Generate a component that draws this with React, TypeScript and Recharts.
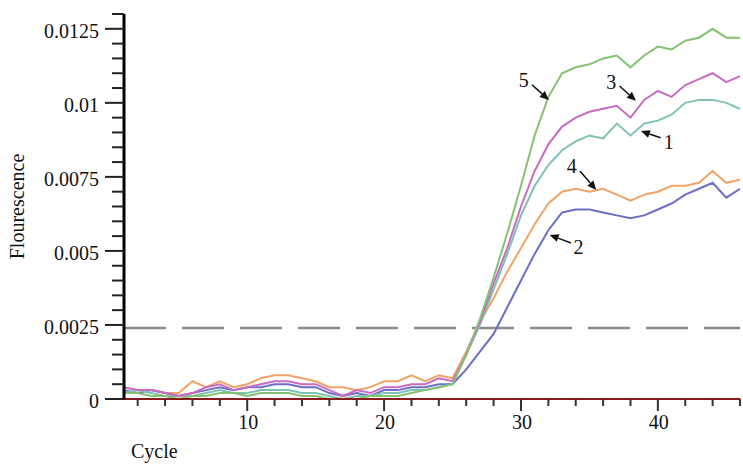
import { LineChart, Line, XAxis, YAxis, ReferenceLine, ReferenceDot } from "recharts";

const cycles = [
  1, 2, 3, 4, 5, 6, 7, 8, 9, 10, 11, 12, 13, 14, 15, 16, 17, 18, 19, 20, 21, 22, 23,
  24, 25, 26, 27, 28, 29, 30, 31, 32, 33, 34, 35, 36, 37, 38, 39, 40, 41, 42, 43, 44, 45, 46,
];

const sample1 = [
  0.0002, 0.0003, 0.0002, 0.0001, 0.0001, 0.0001, 0.0002, 0.0003, 0.0002, 0.0002, 0.0003, 0.0003,
  0.0003, 0.0002, 0.0002, 0.0001, 0.0, 0.0001, 0.0001, 0.0002, 0.0002, 0.0003, 0.0003, 0.0004,
  0.0005, 0.0015, 0.0025, 0.0037, 0.0049, 0.0062, 0.0072, 0.0079, 0.0084, 0.0087, 0.0089, 0.0088,
  0.0093, 0.0089, 0.0093, 0.0094, 0.0096, 0.01, 0.0101, 0.0101, 0.01, 0.0098,
];
const sample2 = [
  0.0003, 0.0002, 0.0003, 0.0002, 0.0001, 0.0002, 0.0003, 0.0004, 0.0003, 0.0004, 0.0004, 0.0005,
  0.0005, 0.0004, 0.0004, 0.0002, 0.0001, 0.0002, 0.0001, 0.0003, 0.0003, 0.0004, 0.0004, 0.0005,
  0.0005, 0.001, 0.0016, 0.0022, 0.0031, 0.004, 0.0049, 0.0057, 0.0063, 0.0064, 0.0064, 0.0063,
  0.0062, 0.0061, 0.0062, 0.0064, 0.0066, 0.0069, 0.0071, 0.0073, 0.0068, 0.0071,
];
const sample3 = [
  0.0004, 0.0003, 0.0003, 0.0002, 0.0001, 0.0002, 0.0004, 0.0005, 0.0003, 0.0004, 0.0005, 0.0006,
  0.0006, 0.0005, 0.0005, 0.0003, 0.0001, 0.0003, 0.0002, 0.0004, 0.0004, 0.0005, 0.0005, 0.0007,
  0.0006, 0.0015, 0.0026, 0.0039, 0.0051, 0.0065, 0.0077, 0.0086, 0.0092, 0.0095, 0.0097, 0.0098,
  0.0099, 0.0095, 0.0101, 0.0104, 0.0102, 0.0106, 0.0108, 0.011, 0.0107, 0.0109,
];
const sample4 = [
  0.0004, 0.0003, 0.0003, 0.0002, 0.0002, 0.0006, 0.0004, 0.0006, 0.0004, 0.0005, 0.0007, 0.0008,
  0.0008, 0.0007, 0.0006, 0.0004, 0.0004, 0.0003, 0.0004, 0.0006, 0.0006, 0.0008, 0.0006, 0.0008,
  0.0007, 0.0016, 0.0026, 0.0034, 0.0043, 0.0051, 0.0059, 0.0066, 0.007, 0.0071, 0.007, 0.0071,
  0.0069, 0.0067, 0.0069, 0.007, 0.0072, 0.0072, 0.0073, 0.0077, 0.0073, 0.0074,
];
const sample5 = [
  0.0002, 0.0002, 0.0001, 0.0001, 0.0, 0.0001, 0.0001, 0.0002, 0.0002, 0.0001, 0.0002, 0.0002,
  0.0002, 0.0001, 0.0001, 0.0, 0.0, 0.0, 0.0001, 0.0001, 0.0001, 0.0002, 0.0003, 0.0004,
  0.0005, 0.0015, 0.0027, 0.0041, 0.0056, 0.0072, 0.0089, 0.0102, 0.011, 0.0112, 0.0113, 0.0115,
  0.0116, 0.0112, 0.0116, 0.0119, 0.0118, 0.0121, 0.0122, 0.0125, 0.0122, 0.0122,
];

const threshold = 0.0024;

const xTicks = [2, 4, 6, 8, 10, 12, 14, 16, 18, 20, 22, 24, 26, 28, 30, 32, 34, 36, 38, 40, 42, 44, 46];
const xLabelled = [10, 20, 30, 40];
const yTicks = [
  0, 0.0005, 0.001, 0.0015, 0.002, 0.0025, 0.003, 0.0035, 0.004, 0.0045, 0.005, 0.0055, 0.006,
  0.0065, 0.007, 0.0075, 0.008, 0.0085, 0.009, 0.0095, 0.01, 0.0105, 0.011, 0.0115, 0.012, 0.0125,
  0.013,
];
const yLabelled = [0, 0.0025, 0.005, 0.0075, 0.01, 0.0125];

// callouts: label position, arrow tail -> head, all in data units
const callouts = [
  { name: "5", lx: 30.2, ly: 0.01078, x1: 30.8, y1: 0.01061, x2: 32.04, y2: 0.0101 },
  { name: "3", lx: 36.6, ly: 0.01071, x1: 37.2, y1: 0.01057, x2: 38.4, y2: 0.01007 },
  { name: "1", lx: 40.8, ly: 0.00868, x1: 40.2, y1: 0.00882, x2: 38.76, y2: 0.00905 },
  { name: "4", lx: 33.7, ly: 0.00787, x1: 34.3, y1: 0.0077, x2: 35.5, y2: 0.00706 },
  { name: "2", lx: 34.2, ly: 0.00514, x1: 33.65, y1: 0.00527, x2: 32.1, y2: 0.00554 },
];

const data = cycles.map((c, i) => ({
  cycle: c,
  s1: sample1[i],
  s2: sample2[i],
  s3: sample3[i],
  s4: sample4[i],
  s5: sample5[i],
}));

const FONT = '"Liberation Serif", "Times New Roman", serif';

const XTick = (props: any) => {
  const { x, y, payload } = props;
  const major = xLabelled.includes(payload.value);
  return (
    <g>
      <line x1={x} y1={y} x2={x} y2={y + (major ? 12 : 7)} stroke="#333" strokeWidth={2} />
      {major && (
        <text x={x + 1} y={y + 30} textAnchor="middle" fontFamily={FONT} fontSize={20} fill="#111">
          {payload.value}
        </text>
      )}
    </g>
  );
};

const YTick = (props: any) => {
  const { x, y, payload } = props;
  const major = yLabelled.some((v) => Math.abs(v - payload.value) < 1e-9);
  return (
    <g>
      <line x1={x - (major ? 19 : 12)} y1={y} x2={x} y2={y} stroke="#222" strokeWidth={2} />
      {major && (
        <text x={x - 25} y={y + 9} textAnchor="end" fontFamily={FONT} fontSize={20} fill="#111">
          {String(payload.value)}
        </text>
      )}
    </g>
  );
};

const Arrow = (props: any) => {
  const { x1, y1, x2, y2 } = props;
  const a = Math.atan2(y2 - y1, x2 - x1);
  const len = 9;
  const w = 4;
  const bx = x2 - len * Math.cos(a);
  const by = y2 - len * Math.sin(a);
  const px = -Math.sin(a) * w;
  const py = Math.cos(a) * w;
  return (
    <g>
      <line x1={x1} y1={y1} x2={bx} y2={by} stroke="#111" strokeWidth={1.5} />
      <polygon points={`${x2},${y2} ${bx + px},${by + py} ${bx - px},${by - py}`} fill="#111" />
    </g>
  );
};

const App = () => {
  return (
    <div style={{ position: "absolute", left: 0, top: 0, background: "#fff" }}>
      <LineChart width={743} height={467} data={data} margin={{ top: 14, right: 3, left: 0, bottom: 0 }}>
        <XAxis
          dataKey="cycle"
          type="number"
          domain={[1, 46]}
          ticks={xTicks}
          interval={0}
          height={68}
          tickLine={false}
          tickSize={0}
          tickMargin={0}
          tick={<XTick />}
          axisLine={{ stroke: "#8b1a1a", strokeWidth: 2 }}
          allowDataOverflow
          label={{
            content: (p: any) => (
              <text x={p.viewBox.x + 7} y={p.viewBox.y + 59} fontFamily={FONT} fontSize={20} fill="#111">
                Cycle
              </text>
            ),
          }}
        />
        <YAxis
          type="number"
          domain={[0, 0.013]}
          ticks={yTicks}
          interval={0}
          width={124}
          tickLine={false}
          tickSize={0}
          tickMargin={0}
          tick={<YTick />}
          axisLine={{ stroke: "#000", strokeWidth: 3 }}
          allowDataOverflow
          label={{
            content: (p: any) => {
              const cx = 17;
              const cy = p.viewBox.y + p.viewBox.height / 2;
              return (
                <text
                  x={cx}
                  y={cy}
                  transform={`rotate(-90 ${cx} ${cy})`}
                  textAnchor="middle"
                  dominantBaseline="central"
                  fontFamily={FONT}
                  fontSize={20}
                  fill="#111"
                >
                  Flourescence
                </text>
              );
            },
          }}
        />
        <ReferenceLine y={threshold} stroke="#8a8a8a" strokeWidth={2.5} strokeDasharray="42 16" />
        <Line dataKey="s4" stroke="#f2a368" strokeWidth={2} dot={false} isAnimationActive={false} />
        <Line dataKey="s2" stroke="#6c6ec8" strokeWidth={2} dot={false} isAnimationActive={false} />
        <Line dataKey="s1" stroke="#7fc2b3" strokeWidth={2} dot={false} isAnimationActive={false} />
        <Line dataKey="s3" stroke="#c96bc0" strokeWidth={2} dot={false} isAnimationActive={false} />
        <Line dataKey="s5" stroke="#86c274" strokeWidth={2} dot={false} isAnimationActive={false} />
        {callouts.map((c) => (
          <ReferenceLine
            key={"a" + c.name}
            segment={[
              { x: c.x1, y: c.y1 },
              { x: c.x2, y: c.y2 },
            ]}
            shape={(p: any) => <Arrow {...p} />}
          />
        ))}
        {callouts.map((c) => (
          <ReferenceDot
            key={"t" + c.name}
            x={c.lx}
            y={c.ly}
            r={0}
            shape={(p: any) => (
              <text
                x={p.cx}
                y={p.cy}
                textAnchor="middle"
                dominantBaseline="central"
                fontFamily={FONT}
                fontSize={20}
                fill="#111"
              >
                {c.name}
              </text>
            )}
          />
        ))}
      </LineChart>
    </div>
  );
};

export default App;
